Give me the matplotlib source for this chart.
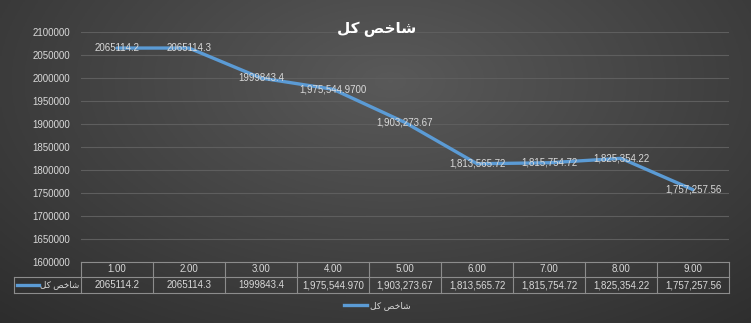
import matplotlib.pyplot as plt
import numpy as np
from matplotlib.ticker import MultipleLocator, FuncFormatter

# data
categories = [1, 2, 3, 4, 5, 6, 7, 8, 9]
col_labels = ['1.00', '2.00', '3.00', '4.00', '5.00', '6.00', '7.00', '8.00', '9.00']
values = [2065114.2, 2065114.3, 1999843.4, 1975544.97, 1903273.67,
          1813565.72, 1815754.72, 1825354.22, 1757257.56]
point_labels = ['2065114.2', '2065114.3', '1999843.4', '1,975,544.9700', '1,903,273.67',
                '1,813,565.72', '1,815,754.72', '1,825,354.22', '1,757,257.56']
table_values = ['2065114.2', '2065114.3', '1999843.4', '1,975,544.970', '1,903,273.67',
                '1,813,565.72', '1,815,754.72', '1,825,354.22', '1,757,257.56']
series_name = 'شاخص کل'
title = 'شاخص کل'

# matplotlib has no arabic shaping, so pick the joined forms by hand
FORMS = {
    'ا': ('\uFE8D', '\uFE8E', None, None),
    'ش': ('\uFEB5', '\uFEB6', '\uFEB7', '\uFEB8'),
    'خ': ('\uFEA5', '\uFEA6', '\uFEA7', '\uFEA8'),
    'ص': ('\uFEB9', '\uFEBA', '\uFEBB', '\uFEBC'),
    'ک': ('\uFB8E', '\uFB8F', '\uFB90', '\uFB91'),
    'ل': ('\uFEDD', '\uFEDE', '\uFEDF', '\uFEE0'),
}


def shape(s):
    out = []
    for i, ch in enumerate(s):
        f = FORMS.get(ch)
        if f is None:
            out.append(ch)
            continue
        prev = s[i - 1] if i > 0 else ''
        nxt = s[i + 1] if i + 1 < len(s) else ''
        jp = prev in FORMS and FORMS[prev][2] is not None
        jn = nxt in FORMS and f[2] is not None
        if jp and jn:
            out.append(f[3])
        elif jp:
            out.append(f[1])
        elif jn:
            out.append(f[2])
        else:
            out.append(f[0])
    return ''.join(reversed(out))


plt.rcParams['font.family'] = ['Liberation Sans', 'DejaVu Sans']
txt = '#d9d9d9'
blue = '#5b9bd5'
W, H = 751, 323

fig = plt.figure(figsize=(W / 100, H / 100), dpi=100)

# dark gradient background
bg = fig.add_axes([0, 0, 1, 1], zorder=-10)
xx, yy = np.meshgrid(np.linspace(0, 1, 300), np.linspace(0, 1, 150))
d = np.sqrt(((xx - 0.52) / 0.75) ** 2 + ((yy - 0.25) / 1.0) ** 2)
shade = np.clip(0.35 - 0.17 * d, 0.17, 0.35)
bg.imshow(np.dstack([shade] * 3), aspect='auto', extent=(0, 1, 1, 0))
bg.axis('off')

ax = fig.add_axes([81 / W, 1 - 262 / H, 648 / W, 230 / H])
ax.set_facecolor('none')
ax.plot(categories, values, color=blue, lw=2.4, solid_capstyle='round', zorder=3)
for x, y, lab in zip(categories, values, point_labels):
    ax.text(x, y, lab, ha='center', va='center', fontsize=7, color=txt, zorder=4)

ax.set_xlim(0.5, 9.5)
ax.set_ylim(1600000, 2100000)
ax.yaxis.set_major_locator(MultipleLocator(50000))
ax.yaxis.set_major_formatter(FuncFormatter(lambda v, p: '%d' % v))
ax.grid(axis='y', color='#5e5e5e', lw=0.8)
ax.set_axisbelow(True)
ax.tick_params(axis='y', length=0, pad=8, labelsize=7, labelcolor=txt)
ax.tick_params(axis='x', length=0, labelbottom=False)
for s in ax.spines.values():
    s.set_visible(False)

# data table under the plot
tr = ax.get_xaxis_transform()
hdr = -15 / 230
row = -31 / 230
left = 0.5 - 67 * 9 / 648
edge = dict(color='#8c8c8c', lw=0.8, transform=tr, clip_on=False)
ax.plot([0.5, 9.5], [0, 0], **edge)
ax.plot([left, 9.5], [hdr, hdr], **edge)
ax.plot([left, 9.5], [row, row], **edge)
ax.plot([left, left], [hdr, row], **edge)
for k in range(10):
    ax.plot([0.5 + k, 0.5 + k], [0, row], **edge)
for x, cl, tv in zip(categories, col_labels, table_values):
    ax.text(x, hdr / 2, cl, ha='center', va='center', fontsize=7, color=txt,
            transform=tr, clip_on=False)
    ax.text(x, (hdr + row) / 2, tv, ha='center', va='center', fontsize=7,
            color=txt, transform=tr, clip_on=False)
ax.plot([left + 3 * 9 / 648, left + 25 * 9 / 648], [(hdr + row) / 2] * 2,
        color=blue, lw=2.4, transform=tr, clip_on=False)
ax.text(0.5 - 2 * 9 / 648, (hdr + row) / 2, shape(series_name), ha='right',
        va='center', fontsize=6.3, color=txt, transform=tr, clip_on=False)

# legend
fig.legend([plt.Line2D([], [], color=blue, lw=2.4)], [shape(series_name)],
           loc='center', bbox_to_anchor=(377 / W, 1 - 306 / H), frameon=False,
           fontsize=6.5, labelcolor=txt, handlelength=2.6, handletextpad=0.3)

fig.text(377 / W, 1 - 29 / H, shape(title), ha='center', va='center',
         fontsize=11, fontweight='bold', color='white')

fig.savefig('out.png', dpi=100)
